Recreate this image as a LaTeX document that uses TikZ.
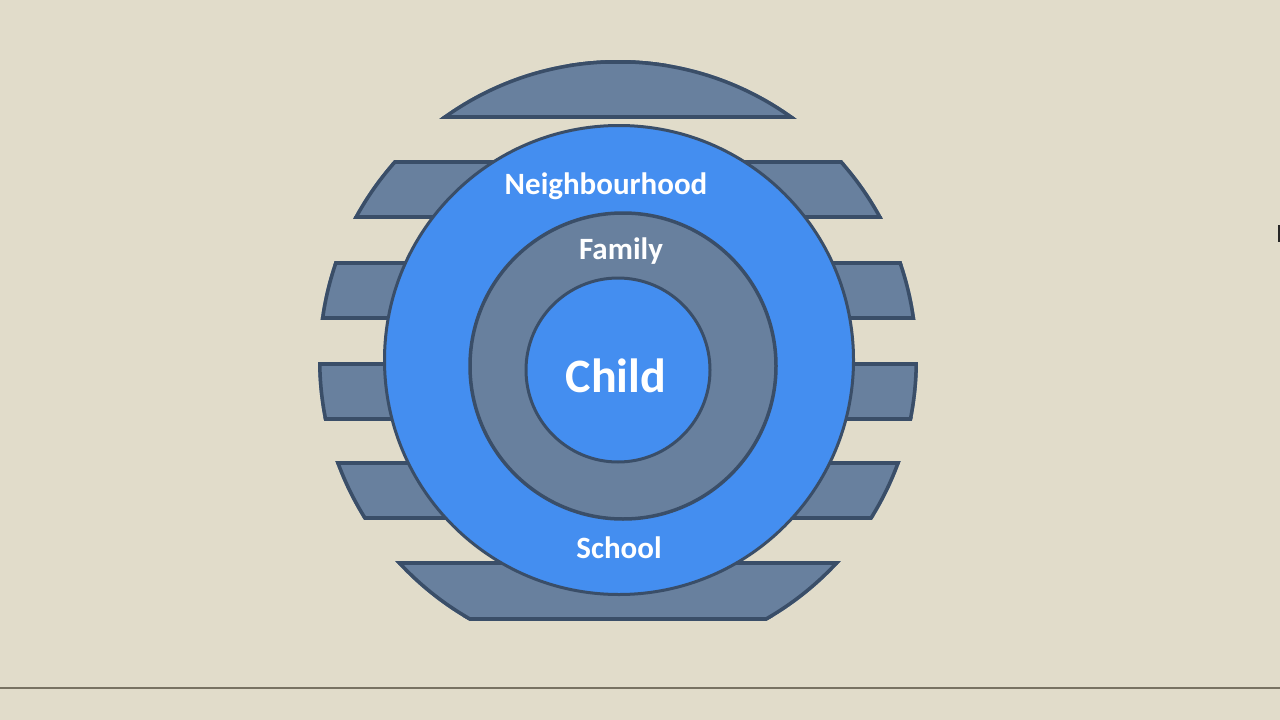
\documentclass[tikz,border=0pt]{standalone}
\usepackage{fontspec}
\setmainfont{Carlito}
\definecolor{bg}{RGB}{225,220,202}
\definecolor{slate}{RGB}{104,128,158}
\definecolor{edge}{RGB}{58,78,104}
\definecolor{skyblue}{RGB}{68,142,240}
\definecolor{rulecol}{RGB}{120,114,98}
\begin{document}
\begin{tikzpicture}[x=1pt,y=-1pt,
  bandfill/.style={fill=slate},
  bandedge/.style={draw=edge, line width=7pt},
  ringdisc/.style={circle, inner sep=0pt, fill=slate, draw=edge, line width=3.5pt},
  bluedisc/.style={circle, inner sep=0pt, fill=skyblue, draw=edge, line width=3pt},
  lab/.style={text=white, inner sep=0pt, anchor=base, font=\bfseries\fontsize{31}{31}\selectfont},
  biglab/.style={text=white, inner sep=0pt, anchor=base, font=\bfseries\fontsize{48}{48}\selectfont}]
\fill[bg] (0,0) rectangle (1280,720);
\useasboundingbox (0,0) rectangle (1280,720);
% striped outer circle
\foreach \ya/\yb in {60/118,160/218,261/319,362/420,461/519,561/620}{
  \begin{scope}
    \clip (618,360) circle (300pt);
    \clip (300,\ya) rectangle (940,\yb);
    \fill[bandfill] (300,\ya) rectangle (940,\yb);
    \draw[bandedge] (618,360) circle (300pt);
    \draw[bandedge] (300,\ya) rectangle (940,\yb);
  \end{scope}
}
% neighbourhood disc
\node[bluedisc, minimum size=469pt] (nbhd) at (619,360) {};
% family ring
\node[ringdisc, minimum size=306pt] (family) at (623,366) {};
% child disc
\node[bluedisc, minimum size=184pt] (child) at (618,370) {};
% labels
\node[lab] (nlab) at (606,194) {Neighbourhood};
\node[lab] (flab) at (621,259) {Family};
\node[biglab] (clab) at (616,392) {Child};
\node[lab] (slab) at (619,558) {School};
% bottom rule
\coordinate (ruleL) at (0,688);
\coordinate (ruleR) at (1280,688);
\draw[rulecol, line width=1.3pt] (ruleL) -- (ruleR);
% small mark at right edge
\fill[black!85] (1277.5,225) rectangle (1280,242);
\end{tikzpicture}
\end{document}
